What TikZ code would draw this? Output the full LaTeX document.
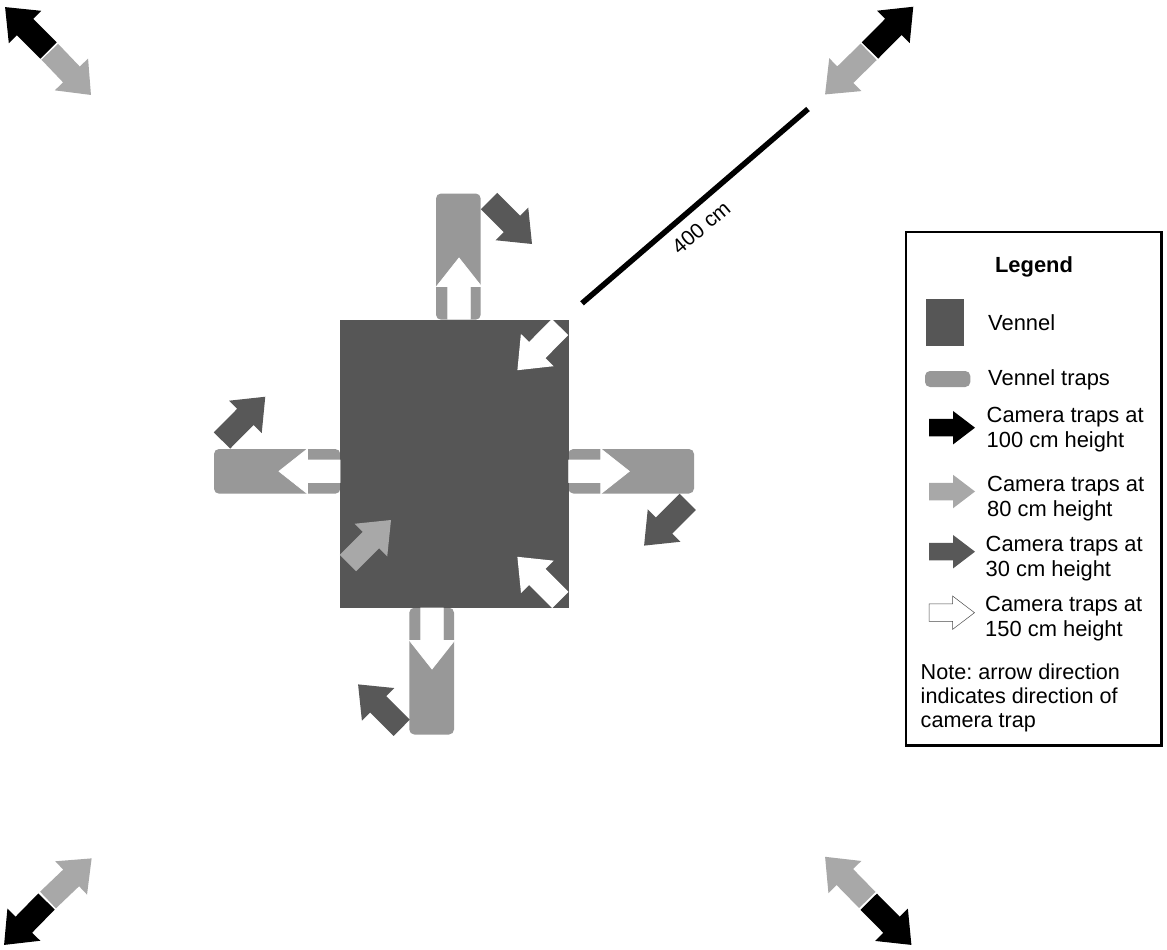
\documentclass[tikz,border=0pt]{standalone}
\usepackage{fontspec}
\setmainfont{Liberation Sans}
\frenchspacing
\definecolor{vennelc}{HTML}{565656}
\definecolor{trapc}{HTML}{989898}
\definecolor{cameightyc}{HTML}{A8A8A8}
\definecolor{camthirtyc}{HTML}{585858}
% tail x, tail y, tip x, tip y (pixel coordinates, y downwards), style, shaft, head width, head length
\newcommand\camarrow[8]{%
  \pgfmathsetmacro\cdang{atan2(-(#4-#2),#3-#1)}%
  \pgfmathsetmacro\cdlen{veclen(#3-#1,#4-#2)}%
  \begin{scope}[shift={(#1,-#2)},rotate=\cdang]
    \path[#5] (0,-#6/2) -- ({\cdlen-#8},-#6/2) -- ({\cdlen-#8},-#7/2) -- (\cdlen,0)
      -- ({\cdlen-#8},#7/2) -- ({\cdlen-#8},#6/2) -- (0,#6/2) -- cycle;
  \end{scope}}
\newcommand\camfield[5]{\camarrow{#1}{#2}{#3}{#4}{#5}{23}{46}{28.3}}
\newcommand\camtrap[5]{\camarrow{#1}{#2}{#3}{#4}{#5}{22.5}{45}{28.5}}
\newcommand\camkey[5]{\camarrow{#1}{#2}{#3}{#4}{#5}{17.5}{33.5}{22}}
\tikzset{
  x=1pt,y=1pt,
  black arrow/.style={fill=black},
  gray arrow/.style={fill=cameightyc},
  dark arrow/.style={fill=camthirtyc},
  white arrow/.style={fill=white},
  white trap arrow/.style={fill=white,draw=white,line width=0.7pt},
  outline arrow/.style={fill=white,draw=black!70,line width=0.5pt},
  vennel/.style={fill=vennelc},
  trap/.style={fill=trapc,rounded corners=5pt},
  label text/.style={anchor=base west,inner sep=0pt,font=\fontsize{21.9}{24}\selectfont},
  note text/.style={anchor=base west,inner sep=0pt,font=\fontsize{21.6}{24}\selectfont},
}
\begin{document}
\begin{tikzpicture}
\useasboundingbox (0,0) rectangle (1167,-950);
\fill[white] (0,0) rectangle (1167,-950);

% corner pairs
\camfield{48.5}{50.5}{5}{7}{black arrow}
\camfield{49.8}{51.8}{91}{95}{gray arrow}
\camfield{870}{50.5}{913.3}{6.7}{black arrow}
\camfield{868.7}{51.8}{825}{94.5}{gray arrow}
\camfield{46.5}{901.5}{4}{945}{black arrow}
\camfield{48}{900}{91.7}{858.3}{gray arrow}
\camfield{868.7}{901.7}{911.5}{945}{black arrow}
\camfield{867.3}{900}{825}{856.7}{gray arrow}

% traps
\path[trap] (436,-193.5) rectangle (480.7,-319.7);
\path[trap] (214,-449) rectangle (340.3,-493.7);
\path[trap] (568.3,-449) rectangle (694,-493.5);
\path[trap] (409.3,-607.7) rectangle (454,-734.5);

% vennel
\path[vennel] (340,-319.5) rectangle (568.7,-607.7);

% arrows in traps
\camtrap{459}{319}{459}{258}{white trap arrow}
\camtrap{340}{471.3}{279}{471.3}{white trap arrow}
\camtrap{568.7}{471.3}{629.3}{471.3}{white trap arrow}
\camtrap{432}{608}{432}{669}{white trap arrow}

% arrows around the vennel
\camfield{489}{201}{532}{244}{dark arrow}
\camfield{222}{440.5}{265.3}{396.7}{dark arrow}
\camfield{687.7}{501.8}{644}{545.7}{dark arrow}
\camfield{401.7}{727.8}{358}{684.3}{dark arrow}
% arrows on the vennel
\camfield{560}{327}{517.3}{370.3}{white arrow}
\camfield{560.3}{600}{517.3}{556.7}{white arrow}
\camfield{348}{563}{391}{520}{gray arrow}

% distance
\coordinate (lineA) at (582,-303.3);
\coordinate (lineB) at (808,-109);
\draw[line width=5.5pt,black] (lineA) -- (lineB);
\node[inner sep=0pt,rotate=40.5,font=\fontsize{21}{24}\selectfont] (dist) at (701,-227.5) {400 cm};

% legend
\draw[line width=2.5pt,black] (906,-232) rectangle (1161.5,-745.5);
\node[anchor=base,inner sep=0pt,font=\bfseries\fontsize{21.9}{24}\selectfont] (legendtitle) at (1034,-272) {Legend};
\path[vennel] (926,-299) rectangle (963.7,-345.7);
\node[label text] (lv) at (988,-330.7) {Vennel};
\path[trap] (925,-371) rectangle (970.3,-387);
\node[label text] (lt) at (988,-385) {Vennel traps};

\camkey{929}{427.7}{975}{427.7}{black arrow}
\node[label text] (l100a) at (986.5,-422) {Camera traps at};
\node[label text] (l100b) at (986.5,-447) {100 cm height};

\camkey{929}{491.5}{975}{491.5}{gray arrow}
\node[label text] (l80a) at (987,-491.5) {Camera traps at};
\node[label text] (l80b) at (987,-516.5) {80 cm height};

\camkey{929}{551.7}{975}{551.7}{dark arrow}
\node[label text] (l30a) at (985.5,-551) {Camera traps at};
\node[label text] (l30b) at (985.5,-576.5) {30 cm height};

\camkey{929}{612.7}{974.5}{612.7}{outline arrow}
\node[label text] (l150a) at (985,-611) {Camera traps at};
\node[label text] (l150b) at (985,-636) {150 cm height};

\node[note text] (n1) at (920.5,-679) {Note: arrow direction};
\node[note text] (n2) at (920.5,-703.5) {indicates direction of};
\node[note text] (n3) at (920.5,-727.7) {camera trap};
\end{tikzpicture}
\end{document}
